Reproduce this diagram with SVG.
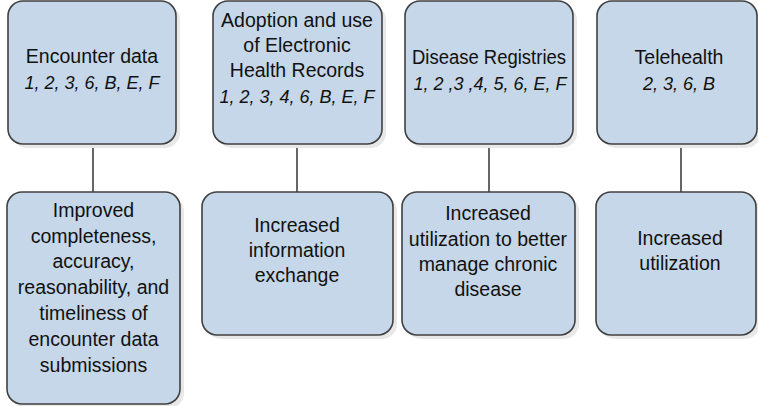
<svg xmlns="http://www.w3.org/2000/svg" width="758" height="406" viewBox="0 0 758 406">
<style>
.box{fill:#C5D7E8;stroke:#404040;stroke-width:1.6}
.sh{fill:#E8E8E8}
.t{font-family:"Liberation Sans",Arial,sans-serif;font-size:19.5px;fill:#111;text-anchor:middle}
.i{font-style:italic;font-size:18px}
.c{stroke:#404040;stroke-width:1.6;fill:none}
</style>
<rect width="758" height="406" fill="#fff"/>
<g id="connectors">
<line class="c" x1="93" y1="144" x2="93" y2="192"/>
<line class="c" x1="297" y1="144" x2="297" y2="192"/>
<line class="c" x1="489" y1="144" x2="489" y2="192"/>
<line class="c" x1="681" y1="144" x2="681" y2="192"/>
</g>
<g id="n1">
<rect class="sh" x="12" y="5" width="168" height="143" rx="15"/>
<rect class="box" x="8" y="1" width="168" height="143" rx="15"/>
<text class="t" x="92" y="63">Encounter data</text>
<text class="t i" x="92" y="89">1, 2, 3, 6, B, E, F</text>
</g>
<g id="n2">
<rect class="sh" x="217" y="5" width="169" height="143" rx="15"/>
<rect class="box" x="213" y="1" width="169" height="143" rx="15"/>
<text class="t" x="297" y="27">Adoption and use</text>
<text class="t" x="297" y="52">of Electronic</text>
<text class="t" x="297" y="77">Health Records</text>
<text class="t i" x="297" y="103">1, 2, 3, 4, 6, B, E, F</text>
</g>
<g id="n3">
<rect class="sh" x="409" y="5" width="168" height="143" rx="15"/>
<rect class="box" x="405" y="1" width="168" height="143" rx="15"/>
<text class="t" x="489" y="64" textLength="154" lengthAdjust="spacingAndGlyphs">Disease Registries</text>
<text class="t i" x="490" y="90">1, 2 ,3 ,4, 5, 6, E, F</text>
</g>
<g id="n4">
<rect class="sh" x="601" y="5" width="160" height="143" rx="15"/>
<rect class="box" x="597" y="1" width="160" height="143" rx="15"/>
<text class="t" x="679" y="64">Telehealth</text>
<text class="t i" x="679" y="90">2, 3, 6, B</text>
</g>
<g id="n5">
<rect class="sh" x="11" y="196" width="173" height="212" rx="15"/>
<rect class="box" x="7" y="192" width="173" height="212" rx="15"/>
<text class="t" x="93.5" y="217">Improved</text>
<text class="t" x="93.5" y="243">completeness,</text>
<text class="t" x="93.5" y="268">accuracy,</text>
<text class="t" x="93.5" y="294">reasonability, and</text>
<text class="t" x="93.5" y="320">timeliness of</text>
<text class="t" x="93.5" y="346">encounter data</text>
<text class="t" x="93.5" y="372">submissions</text>
</g>
<g id="n6">
<rect class="sh" x="206" y="196" width="191" height="143" rx="15"/>
<rect class="box" x="202" y="192" width="191" height="143" rx="15"/>
<text class="t" x="297" y="232">Increased</text>
<text class="t" x="297" y="257">information</text>
<text class="t" x="297" y="282">exchange</text>
</g>
<g id="n7">
<rect class="sh" x="406" y="196" width="173" height="143" rx="15"/>
<rect class="box" x="402" y="192" width="173" height="143" rx="15"/>
<text class="t" x="488" y="220">Increased</text>
<text class="t" x="488" y="246">utilization to better</text>
<text class="t" x="488" y="271">manage chronic</text>
<text class="t" x="488" y="296">disease</text>
</g>
<g id="n8">
<rect class="sh" x="600" y="196" width="160" height="143" rx="15"/>
<rect class="box" x="596" y="192" width="160" height="143" rx="15"/>
<text class="t" x="680" y="245">Increased</text>
<text class="t" x="680" y="270">utilization</text>
</g>
</svg>
